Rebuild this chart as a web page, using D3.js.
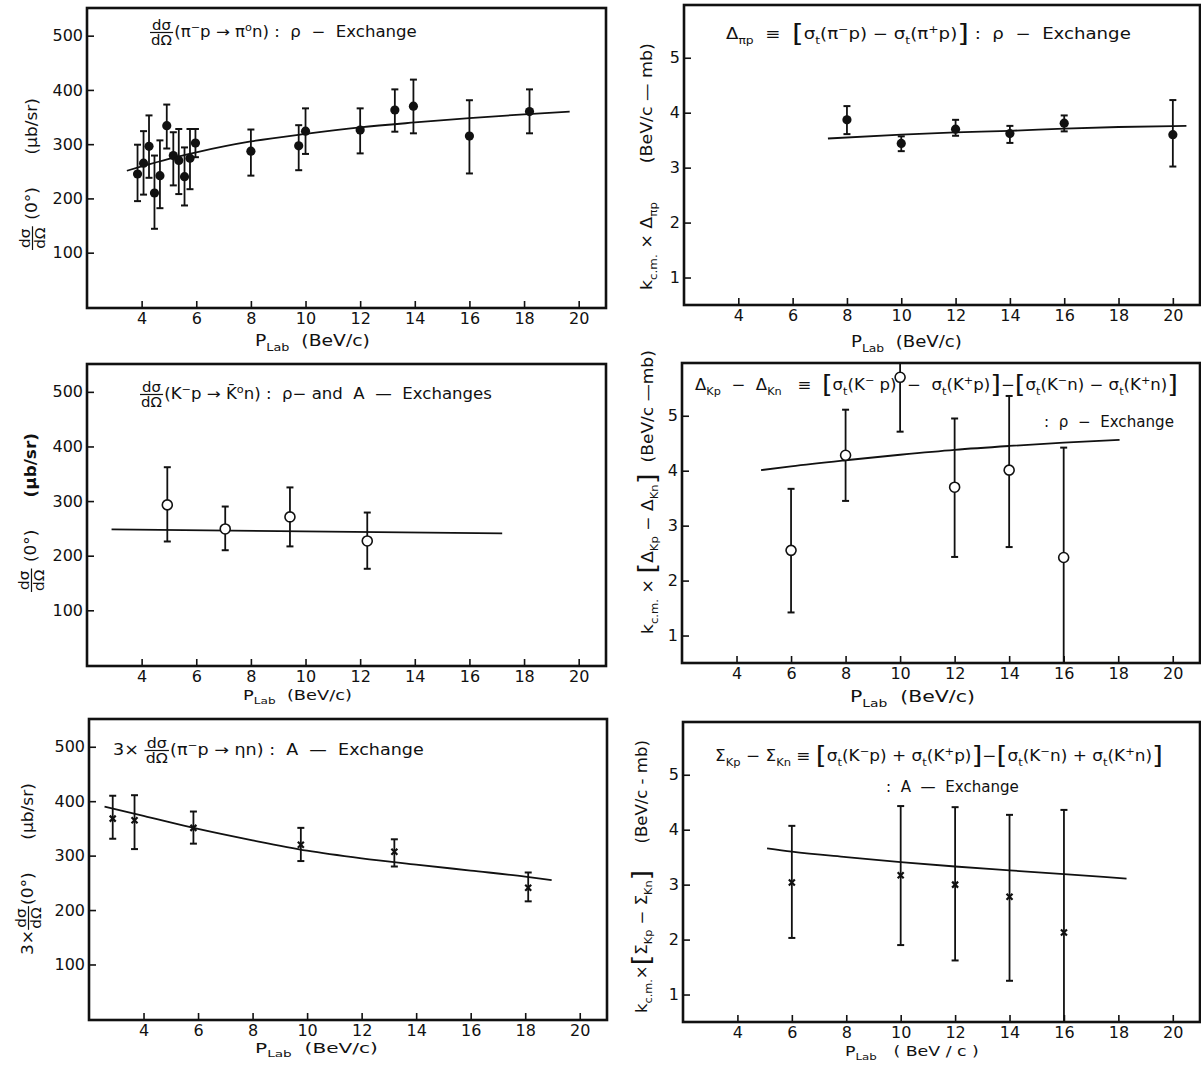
<!DOCTYPE html>
<html>
<head>
<meta charset="utf-8">
<script src="https://cdn.jsdelivr.net/npm/d3@7"></script>
<style>
body { margin: 0; background: #fff; }
svg text { font-family: "DejaVu Sans", sans-serif; fill: #111; }
</style>
</head>
<body>
<script>
// ---- panel 1 : dsigma/dOmega (pi- p -> pi0 n), rho exchange
var pLab1 = [3.85, 4.07, 4.27, 4.47, 4.67, 4.92, 5.16, 5.36, 5.57, 5.77, 5.97, 8.0, 9.75, 10.0, 12.0, 13.27, 13.95, 16.0, 18.2];
var xsec1 = [245, 265, 296, 210, 242, 334, 279, 270, 240, 274, 302, 287, 297, 324, 326, 363, 370, 315, 360];
var xsec1Hi = [299, 324, 353, 279, 307, 373, 322, 328, 294, 328, 328, 327, 335, 366, 366, 401, 419, 381, 401];
var xsec1Lo = [195, 207, 238, 144, 182, 292, 224, 208, 187, 217, 276, 242, 252, 282, 283, 323, 320, 246, 320];
var fit1X = [3.46, 4, 5, 6, 8, 10, 12, 14, 16, 18, 19.67];
var fit1Y = [251, 259, 273, 285, 305, 319, 331, 340, 348, 355, 360];

// ---- panel 2 : k.cm x Delta(pi p)
var pLab2 = [8, 10, 12, 14, 16, 20];
var delta2 = [3.87, 3.44, 3.70, 3.62, 3.81, 3.60];
var delta2Hi = [4.12, 3.57, 3.87, 3.76, 3.95, 4.23];
var delta2Lo = [3.61, 3.30, 3.58, 3.45, 3.66, 3.02];
var fit2X = [7.3, 10, 12, 14, 16, 18, 20.5];
var fit2Y = [3.53, 3.60, 3.64, 3.67, 3.71, 3.74, 3.76];

// ---- panel 3 : dsigma/dOmega (K- p -> K0bar n)
var pLab3 = [4.94, 7.06, 9.43, 12.26];
var xsec3 = [293, 249, 271, 227];
var xsec3Hi = [362, 290, 325, 279];
var xsec3Lo = [226, 210, 217, 176];
var fit3X = [2.9, 17.2];
var fit3Y = [248, 241];

// ---- panel 4 : k.cm x [Delta Kp - Delta Kn]
var pLab4 = [6, 8, 10, 12, 14, 16];
var delta4 = [2.55, 4.28, 5.70, 3.70, 4.01, 2.42];
var delta4Hi = [3.67, 5.11, 6.30, 4.95, 5.36, 4.42];
var delta4Lo = [1.42, 3.45, 4.71, 2.43, 2.61, 0.30];
var fit4X = [4.9, 6, 8, 10, 12, 14, 16, 18.05];
var fit4Y = [4.01, 4.08, 4.19, 4.29, 4.38, 4.45, 4.51, 4.56];

// ---- panel 5 : 3 x dsigma/dOmega (pi- p -> eta n)
var pLab5 = [2.87, 3.67, 5.83, 9.77, 13.2, 18.11];
var xsec5 = [368, 365, 351, 320, 307, 241];
var xsec5Hi = [410, 411, 381, 351, 330, 269];
var xsec5Lo = [331, 312, 322, 290, 280, 216];
var fit5X = [2.57, 4, 6, 8, 10, 12, 14, 16, 18, 18.97];
var fit5Y = [390, 373, 349, 328, 309, 295, 283.5, 272.5, 261.5, 255];

// ---- panel 6 : k.cm x [Sigma Kp - Sigma Kn]
var pLab6 = [6, 10, 12, 14, 16];
var sigma6 = [3.04, 3.17, 3.00, 2.78, 2.13];
var sigma6Hi = [4.07, 4.43, 4.41, 4.27, 4.36];
var sigma6Lo = [2.03, 1.90, 1.62, 1.25, 0.30];
var fit6X = [5.09, 6, 8, 10, 12, 14, 16, 18.3];
var fit6Y = [3.66, 3.60, 3.50, 3.41, 3.33, 3.26, 3.19, 3.11];

var xTicks = [4, 6, 8, 10, 12, 14, 16, 18, 20];
var xsecTicks = [100, 200, 300, 400, 500];
var kcmTicks = [1, 2, 3, 4, 5];

var svg = d3.select("body").append("svg")
    .attr("width", 1201)
    .attr("height", 1065);

var clipId = 0;

function makePanel(frame, yDomain, yTicks) {
    var x = d3.scaleLinear().domain([2, 21]).range([frame.x0, frame.x1]);
    var y = d3.scaleLinear().domain(yDomain).range([frame.y1, frame.y0]);
    var g = svg.append("g");
    var id = "clip" + (clipId++);
    g.append("clipPath").attr("id", id)
      .append("rect")
        .attr("x", frame.x0).attr("y", frame.y0)
        .attr("width", frame.x1 - frame.x0).attr("height", frame.y1 - frame.y0);

    var xa = g.append("g")
        .attr("transform", "translate(0," + frame.y1 + ")")
        .call(d3.axisBottom(x).tickValues(xTicks).tickFormat(d3.format("d"))
            .tickSizeInner(-7).tickSizeOuter(0).tickPadding(5));
    var ya = g.append("g")
        .attr("transform", "translate(" + frame.x0 + ",0)")
        .call(d3.axisLeft(y).tickValues(yTicks).tickFormat(d3.format("d"))
            .tickSizeInner(-7).tickSizeOuter(0).tickPadding(4));
    [xa, ya].forEach(function(a) {
        a.select(".domain").remove();
        a.selectAll("line").attr("stroke", "#111").attr("stroke-width", 1.6);
        a.selectAll("text").attr("font-size", 16).attr("fill", "#111");
    });

    g.append("rect")
        .attr("x", frame.x0).attr("y", frame.y0)
        .attr("width", frame.x1 - frame.x0).attr("height", frame.y1 - frame.y0)
        .attr("fill", "none").attr("stroke", "#111").attr("stroke-width", 2.6);

    var plot = g.append("g").attr("clip-path", "url(#" + id + ")");
    return {x: x, y: y, g: g, plot: plot};
}

function drawFit(p, xs, ys) {
    var line = d3.line()
        .x(function(d) { return p.x(d[0]); })
        .y(function(d) { return p.y(d[1]); })
        .curve(d3.curveMonotoneX);
    p.plot.append("path")
        .datum(d3.zip(xs, ys))
        .attr("d", line)
        .attr("fill", "none").attr("stroke", "#111").attr("stroke-width", 1.8);
}

function drawPoints(p, xs, ys, lo, hi, kind) {
    var cap = 3.5;
    xs.forEach(function(xv, i) {
        var px = p.x(xv);
        p.plot.append("line")
            .attr("x1", px).attr("x2", px)
            .attr("y1", p.y(lo[i])).attr("y2", p.y(hi[i]))
            .attr("stroke", "#111").attr("stroke-width", 1.8);
        [lo[i], hi[i]].forEach(function(v) {
            p.plot.append("line")
                .attr("x1", px - cap).attr("x2", px + cap)
                .attr("y1", p.y(v)).attr("y2", p.y(v))
                .attr("stroke", "#111").attr("stroke-width", 2);
        });
    });
    xs.forEach(function(xv, i) {
        var px = p.x(xv), py = p.y(ys[i]);
        if (kind === "filled") {
            p.plot.append("circle").attr("cx", px).attr("cy", py).attr("r", 4.6).attr("fill", "#111");
        } else if (kind === "open") {
            p.plot.append("circle").attr("cx", px).attr("cy", py).attr("r", 5)
                .attr("fill", "#fff").attr("stroke", "#111").attr("stroke-width", 1.6);
        } else {
            var s = 3;
            p.plot.append("path")
                .attr("d", "M" + (px - s) + "," + (py - s) + "L" + (px + s) + "," + (py + s) +
                           "M" + (px + s) + "," + (py - s) + "L" + (px - s) + "," + (py + s))
                .attr("stroke", "#111").attr("stroke-width", 2.2);
        }
    });
}

// lays out a run of text pieces (plain, sub, sup, fraction, big bracket) from x=0 on baseline 0
function rich(g, parts, size) {
    var x = 0;
    parts.forEach(function(p) {
        if (typeof p === "string") p = {t: p};
        if (p.frac) {
            var fs = size * 0.9, bar = -size * 0.3;
            var num = g.append("text").attr("y", bar - 2.5).attr("font-size", fs).text(p.frac[0]);
            var den = g.append("text").attr("y", bar + fs * 0.76 + 2.5).attr("font-size", fs).text(p.frac[1]);
            var w = Math.max(num.node().getComputedTextLength(), den.node().getComputedTextLength()) + 2;
            num.attr("x", x + w / 2).attr("text-anchor", "middle");
            den.attr("x", x + w / 2).attr("text-anchor", "middle");
            g.append("line")
                .attr("x1", x).attr("x2", x + w).attr("y1", bar).attr("y2", bar)
                .attr("stroke", "#111").attr("stroke-width", 1.2);
            x += w + 1;
            return;
        }
        var fsz = size, dy = 0, txt = p.t;
        if (p.sub !== undefined) { fsz = size * 0.68; dy = size * 0.32; txt = p.sub; }
        if (p.sup !== undefined) { fsz = size * 0.68; dy = -size * 0.42; txt = p.sup; }
        if (p.big !== undefined) { fsz = size * 1.65; dy = size * 0.2; txt = p.big; }
        var t = g.append("text").attr("x", x).attr("y", dy)
            .attr("font-size", fsz)
            .attr("font-weight", p.bold ? "bold" : null)
            .style("white-space", "pre")
            .text(txt);
        x += t.node().getComputedTextLength();
    });
    return x;
}

// places rich text so that it runs from x0 to x1 on baseline y (horizontal)
function label(parts, x0, x1, y, size) {
    var outer = svg.append("g").attr("transform", "translate(" + x0 + "," + y + ")");
    var inner = outer.append("g");
    var w = rich(inner, parts, size);
    inner.attr("transform", "scale(" + ((x1 - x0) / w) + ",1)");
}

// rotated label running upward on screen from yBottom to yTop, baseline at screen x
function vlabel(parts, x, yBottom, yTop, size) {
    var outer = svg.append("g").attr("transform", "translate(" + x + "," + yBottom + ") rotate(-90)");
    var inner = outer.append("g");
    var w = rich(inner, parts, size);
    inner.attr("transform", "scale(" + ((yBottom - yTop) / w) + ",1)");
}

var plab = ["P", {sub: "Lab"}, "  (BeV/c)"];

// ---------- panel 1
var p1 = makePanel({x0: 87, x1: 606, y0: 8, y1: 308}, [-2, 551], xsecTicks);
drawFit(p1, fit1X, fit1Y);
drawPoints(p1, pLab1, xsec1, xsec1Lo, xsec1Hi, "filled");
label([{frac: ["d\u03c3", "d\u03a9"]}, "(\u03c0", {sup: "\u2212"}, "p \u2192 \u03c0", {sup: "o"}, "n) :  \u03c1  \u2212  Exchange"], 150, 417, 37, 15);
vlabel([{frac: ["d\u03c3", "d\u03a9"]}, " (0\u00b0)", "      (\u03bcb/sr)"], 37, 250, 98, 15);
label(plab, 255, 370, 346, 15);

// ---------- panel 2
var p2 = makePanel({x0: 684, x1: 1200, y0: 5, y1: 305}, [0.5, 5.96], kcmTicks);
drawFit(p2, fit2X, fit2Y);
drawPoints(p2, pLab2, delta2, delta2Lo, delta2Hi, "filled");
label(["\u0394", {sub: "\u03c0p"}, "  \u2261  ", {big: "["}, "\u03c3", {sub: "t"}, "(\u03c0", {sup: "\u2212"}, "p) \u2212 \u03c3", {sub: "t"}, "(\u03c0", {sup: "+"}, "p)", {big: "]"}, " :  \u03c1  \u2212  Exchange"], 726, 1131, 39, 15);
vlabel(["k", {sub: "c.m."}, " \u00d7 \u0394", {sub: "\u03c0p"}, "       (BeV/c \u2014 mb)"], 652, 290, 43, 15);
label(plab, 851, 962, 347, 15);

// ---------- panel 3
var p3 = makePanel({x0: 87, x1: 606, y0: 364, y1: 666}, [-2, 551], xsecTicks);
drawFit(p3, fit3X, fit3Y);
drawPoints(p3, pLab3, xsec3, xsec3Lo, xsec3Hi, "open");
label([{frac: ["d\u03c3", "d\u03a9"]}, "(K", {sup: "\u2212"}, "p \u2192 K\u0304", {sup: "o"}, "n) :  \u03c1\u2212 and  A  \u2014  Exchanges"], 140, 492, 399, 15);
vlabel([{frac: ["d\u03c3", "d\u03a9"]}, " (0\u00b0)", "      ", {t: "(\u03bcb/sr)", bold: true}], 36, 592, 433, 15);
label(plab, 243, 352, 700, 14);

// ---------- panel 4
var p4 = makePanel({x0: 682, x1: 1200, y0: 363, y1: 663}, [0.5, 5.96], kcmTicks);
drawFit(p4, fit4X, fit4Y);
drawPoints(p4, pLab4, delta4, delta4Lo, delta4Hi, "open");
label(["\u0394", {sub: "Kp"}, "  \u2212  \u0394", {sub: "Kn"}, "   \u2261  ", {big: "["}, "\u03c3", {sub: "t"}, "(K", {sup: "\u2212"}, " p)  \u2212  \u03c3", {sub: "t"}, "(K", {sup: "+"}, "p)", {big: "]"}, "\u2212", {big: "["}, "\u03c3", {sub: "t"}, "(K", {sup: "\u2212"}, "n) \u2212 \u03c3", {sub: "t"}, "(K", {sup: "+"}, "n)", {big: "]"}], 695, 1178, 390, 15);
label([":  \u03c1  \u2212  Exchange"], 1044, 1174, 427, 15);
vlabel(["k", {sub: "c.m."}, " \u00d7 ", {big: "["}, "\u0394", {sub: "Kp"}, " \u2212 \u0394", {sub: "Kn"}, {big: "]"}, "  (BeV/c \u2014mb)"], 653, 634, 350, 15);
label(plab, 850, 975, 702, 15);

// ---------- panel 5
var p5 = makePanel({x0: 89, x1: 607, y0: 719, y1: 1020}, [-2, 551], xsecTicks);
drawFit(p5, fit5X, fit5Y);
drawPoints(p5, pLab5, xsec5, xsec5Lo, xsec5Hi, "cross");
label(["3\u00d7 ", {frac: ["d\u03c3", "d\u03a9"]}, "(\u03c0", {sup: "\u2212"}, "p \u2192 \u03b7n) :  A  \u2014  Exchange"], 113, 424, 755, 15);
vlabel(["3\u00d7", {frac: ["d\u03c3", "d\u03a9"]}, "(0\u00b0)", "      (\u03bcb/sr)"], 33, 955, 783, 15);
label(plab, 255, 378, 1053, 14);

// ---------- panel 6
var p6 = makePanel({x0: 683, x1: 1200, y0: 722, y1: 1022}, [0.5, 5.96], kcmTicks);
drawFit(p6, fit6X, fit6Y);
drawPoints(p6, pLab6, sigma6, sigma6Lo, sigma6Hi, "cross");
label(["\u03a3", {sub: "Kp"}, " \u2212 \u03a3", {sub: "Kn"}, " \u2261 ", {big: "["}, "\u03c3", {sub: "t"}, "(K", {sup: "\u2212"}, "p) + \u03c3", {sub: "t"}, "(K", {sup: "+"}, "p)", {big: "]"}, "\u2212", {big: "["}, "\u03c3", {sub: "t"}, "(K", {sup: "\u2212"}, "n) + \u03c3", {sub: "t"}, "(K", {sup: "+"}, "n)", {big: "]"}], 715, 1163, 761, 15);
label([":  A  \u2014  Exchange"], 886, 1019, 792, 15);
vlabel(["k", {sub: "c.m."}, "\u00d7", {big: "["}, "\u03a3", {sub: "Kp"}, " \u2212 \u03a3", {sub: "Kn"}, {big: "]"}, "     (BeV/c - mb)"], 647, 1013, 740, 15);
label(["P", {sub: "Lab"}, "   ( BeV / c )"], 845, 979, 1056, 14);
</script>
</body>
</html>
